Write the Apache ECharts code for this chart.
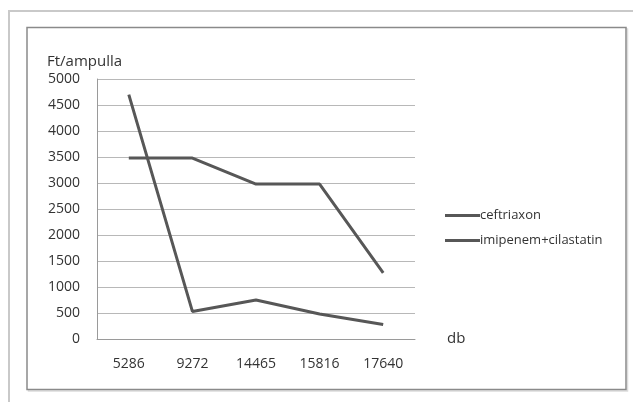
<!DOCTYPE html>
<html>
<head>
<meta charset="utf-8">
<script src="https://cdn.jsdelivr.net/npm/echarts@6/dist/echarts.min.js"></script>
<style>
  html, body { margin: 0; padding: 0; background: #fff; }
  #chart { width: 633px; height: 402px; }
</style>
</head>
<body>
<div id="chart"></div>
<script>
// Quantities (db) on the category axis
const categories = ['5286', '9272', '14465', '15816', '17640'];
// Price per ampoule (Ft)
const ceftriaxon = [4700, 530, 750, 480, 280];
const imipenemCilastatin = [3480, 3480, 2980, 2980, 1270];
// Value axis range
const yMin = 0;
const yMax = 5000;
const yStep = 500;

const FONT = '"Open Sans", Lato, sans-serif';
const LINE_COLOR = '#575757';

const chart = echarts.init(document.getElementById('chart'));

chart.setOption({
  backgroundColor: '#ffffff',
  animation: false,
  graphic: [
    // outer light border
    {
      type: 'rect',
      shape: { x: 9, y: 11, width: 640, height: 400 },
      style: { fill: 'none', stroke: '#c9c9c9', lineWidth: 2 },
      silent: true
    },
    // inner chart frame shadow
    {
      type: 'rect',
      shape: { x: 28.5, y: 29, width: 599, height: 362 },
      style: { fill: 'none', stroke: '#dcdcdc', lineWidth: 1.5 },
      silent: true
    },
    // inner chart frame
    {
      type: 'rect',
      shape: { x: 27, y: 27.5, width: 599, height: 362 },
      style: { fill: '#ffffff', stroke: '#8a8a8a', lineWidth: 1.5 },
      silent: true
    }
  ],
  title: {
    text: 'Ft/ampulla',
    left: 42,
    top: 49,
    textStyle: { fontFamily: FONT, fontSize: 15, fontWeight: 'normal', color: '#333' }
  },
  legend: {
    orient: 'vertical',
    left: 440,
    top: 204,
    itemWidth: 35,
    itemHeight: 3,
    itemGap: 12,
    icon: 'rect',
    textStyle: { fontFamily: FONT, fontSize: 13, color: '#333', padding: [0, 0, 0, -5] },
    data: ['ceftriaxon', 'imipenem+cilastatin']
  },
  grid: { left: 97, top: 79, width: 318, height: 260 },
  xAxis: {
    type: 'category',
    data: categories,
    boundaryGap: true,
    name: 'db',
    nameLocation: 'end',
    nameGap: 32,
    nameTextStyle: { fontFamily: FONT, fontSize: 15, color: '#333', padding: [54, 0, 0, 0] },
    axisLine: { lineStyle: { color: '#9a9a9a', width: 1 } },
    axisTick: { show: false },
    axisLabel: { fontFamily: FONT, fontSize: 14, color: '#333', margin: 18 }
  },
  yAxis: {
    type: 'value',
    min: yMin,
    max: yMax,
    interval: yStep,
    axisLine: { show: true, lineStyle: { color: '#9a9a9a', width: 1 } },
    axisTick: { show: false },
    axisLabel: {
      fontFamily: FONT, fontSize: 14, color: '#333', margin: 17,
      formatter: (v) => String(v)
    },
    splitLine: { lineStyle: { color: '#b8b8b8', width: 1 } }
  },
  series: [
    {
      name: 'ceftriaxon',
      type: 'line',
      data: ceftriaxon,
      symbol: 'none',
      itemStyle: { color: LINE_COLOR },
      lineStyle: { color: LINE_COLOR, width: 3 }
    },
    {
      name: 'imipenem+cilastatin',
      type: 'line',
      data: imipenemCilastatin,
      symbol: 'none',
      itemStyle: { color: LINE_COLOR },
      lineStyle: { color: LINE_COLOR, width: 3 }
    }
  ]
});
</script>
</body>
</html>
